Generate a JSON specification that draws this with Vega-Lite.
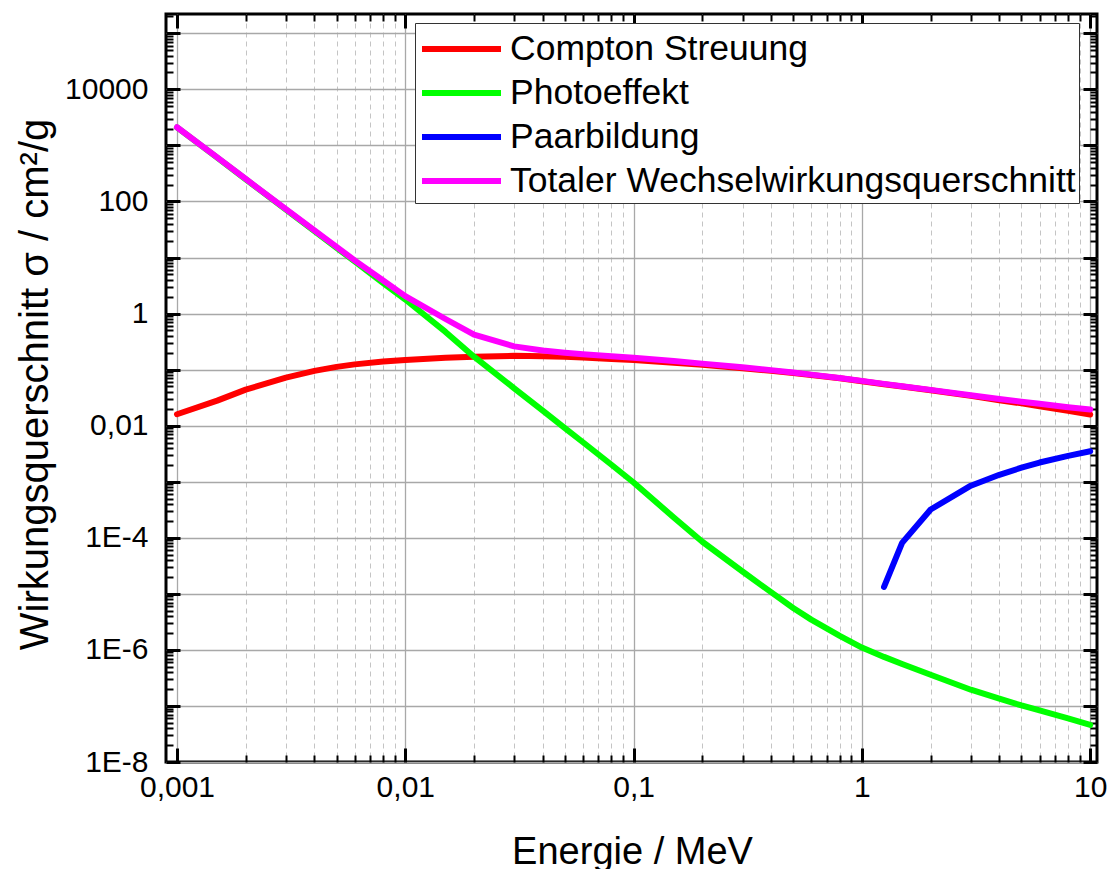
{
  "$schema": "https://vega.github.io/schema/vega-lite/v6.json",
  "width": 931,
  "height": 748,
  "autosize": "none",
  "padding": {"left": 166, "top": 14, "right": 14, "bottom": 107},
  "background": "white",
  "config": {
    "view": {"stroke": "black", "strokeWidth": 3},
    "font": "Liberation Sans",
    "axis": {"domain": false, "tickColor": "black", "labelColor": "black", "titleColor": "black", "labelFont": "Liberation Sans", "titleFont": "Liberation Sans", "titleFontWeight": "normal"}
  },
  "data": {
    "values": [
      {"E": 0.001, "s": 0.016, "k": "Compton Streuung"},
      {"E": 0.0015, "s": 0.028, "k": "Compton Streuung"},
      {"E": 0.002, "s": 0.044, "k": "Compton Streuung"},
      {"E": 0.003, "s": 0.072, "k": "Compton Streuung"},
      {"E": 0.004, "s": 0.095, "k": "Compton Streuung"},
      {"E": 0.005, "s": 0.112, "k": "Compton Streuung"},
      {"E": 0.006, "s": 0.124, "k": "Compton Streuung"},
      {"E": 0.008, "s": 0.139, "k": "Compton Streuung"},
      {"E": 0.01, "s": 0.149, "k": "Compton Streuung"},
      {"E": 0.015, "s": 0.163, "k": "Compton Streuung"},
      {"E": 0.02, "s": 0.170, "k": "Compton Streuung"},
      {"E": 0.03, "s": 0.176, "k": "Compton Streuung"},
      {"E": 0.04, "s": 0.174, "k": "Compton Streuung"},
      {"E": 0.05, "s": 0.169, "k": "Compton Streuung"},
      {"E": 0.06, "s": 0.164, "k": "Compton Streuung"},
      {"E": 0.08, "s": 0.155, "k": "Compton Streuung"},
      {"E": 0.1, "s": 0.148, "k": "Compton Streuung"},
      {"E": 0.15, "s": 0.133, "k": "Compton Streuung"},
      {"E": 0.2, "s": 0.122, "k": "Compton Streuung"},
      {"E": 0.3, "s": 0.106, "k": "Compton Streuung"},
      {"E": 0.4, "s": 0.095, "k": "Compton Streuung"},
      {"E": 0.5, "s": 0.087, "k": "Compton Streuung"},
      {"E": 0.6, "s": 0.080, "k": "Compton Streuung"},
      {"E": 0.8, "s": 0.070, "k": "Compton Streuung"},
      {"E": 1, "s": 0.062, "k": "Compton Streuung"},
      {"E": 1.25, "s": 0.055, "k": "Compton Streuung"},
      {"E": 1.5, "s": 0.050, "k": "Compton Streuung"},
      {"E": 2, "s": 0.043, "k": "Compton Streuung"},
      {"E": 3, "s": 0.034, "k": "Compton Streuung"},
      {"E": 4, "s": 0.0285, "k": "Compton Streuung"},
      {"E": 5, "s": 0.025, "k": "Compton Streuung"},
      {"E": 6, "s": 0.0222, "k": "Compton Streuung"},
      {"E": 8, "s": 0.0185, "k": "Compton Streuung"},
      {"E": 10, "s": 0.0158, "k": "Compton Streuung"},
      {"E": 0.001, "s": 2090, "k": "Photoeffekt"},
      {"E": 0.0015, "s": 603, "k": "Photoeffekt"},
      {"E": 0.002, "s": 249, "k": "Photoeffekt"},
      {"E": 0.003, "s": 71.6, "k": "Photoeffekt"},
      {"E": 0.004, "s": 29.6, "k": "Photoeffekt"},
      {"E": 0.005, "s": 14.9, "k": "Photoeffekt"},
      {"E": 0.006, "s": 8.5, "k": "Photoeffekt"},
      {"E": 0.008, "s": 3.5, "k": "Photoeffekt"},
      {"E": 0.01, "s": 1.78, "k": "Photoeffekt"},
      {"E": 0.015, "s": 0.47, "k": "Photoeffekt"},
      {"E": 0.02, "s": 0.17, "k": "Photoeffekt"},
      {"E": 0.03, "s": 0.0465, "k": "Photoeffekt"},
      {"E": 0.04, "s": 0.0185, "k": "Photoeffekt"},
      {"E": 0.05, "s": 0.00906, "k": "Photoeffekt"},
      {"E": 0.06, "s": 0.00506, "k": "Photoeffekt"},
      {"E": 0.08, "s": 0.00201, "k": "Photoeffekt"},
      {"E": 0.1, "s": 0.00097, "k": "Photoeffekt"},
      {"E": 0.15, "s": 0.00023, "k": "Photoeffekt"},
      {"E": 0.2, "s": 0.000085, "k": "Photoeffekt"},
      {"E": 0.3, "s": 0.000025, "k": "Photoeffekt"},
      {"E": 0.4, "s": 0.0000107, "k": "Photoeffekt"},
      {"E": 0.5, "s": 0.0000056, "k": "Photoeffekt"},
      {"E": 0.6, "s": 0.00000347, "k": "Photoeffekt"},
      {"E": 0.8, "s": 0.00000178, "k": "Photoeffekt"},
      {"E": 1, "s": 0.0000011, "k": "Photoeffekt"},
      {"E": 1.25, "s": 0.00000075, "k": "Photoeffekt"},
      {"E": 1.5, "s": 0.00000056, "k": "Photoeffekt"},
      {"E": 2, "s": 0.00000036, "k": "Photoeffekt"},
      {"E": 3, "s": 0.000000195, "k": "Photoeffekt"},
      {"E": 4, "s": 0.000000135, "k": "Photoeffekt"},
      {"E": 5, "s": 0.000000102, "k": "Photoeffekt"},
      {"E": 6, "s": 0.000000083, "k": "Photoeffekt"},
      {"E": 8, "s": 0.00000006, "k": "Photoeffekt"},
      {"E": 10, "s": 0.000000046, "k": "Photoeffekt"},
      {"E": 1.25, "s": 0.0000133, "k": "Paarbildung"},
      {"E": 1.5, "s": 0.000081, "k": "Paarbildung"},
      {"E": 2, "s": 0.00032, "k": "Paarbildung"},
      {"E": 3, "s": 0.00085, "k": "Paarbildung"},
      {"E": 4, "s": 0.00133, "k": "Paarbildung"},
      {"E": 5, "s": 0.00178, "k": "Paarbildung"},
      {"E": 6, "s": 0.0022, "k": "Paarbildung"},
      {"E": 8, "s": 0.0029, "k": "Paarbildung"},
      {"E": 10, "s": 0.0035, "k": "Paarbildung"},
      {"E": 0.001, "s": 2110, "k": "Totaler Wechselwirkungsquerschnitt"},
      {"E": 0.0015, "s": 610, "k": "Totaler Wechselwirkungsquerschnitt"},
      {"E": 0.002, "s": 252, "k": "Totaler Wechselwirkungsquerschnitt"},
      {"E": 0.003, "s": 73, "k": "Totaler Wechselwirkungsquerschnitt"},
      {"E": 0.004, "s": 30.5, "k": "Totaler Wechselwirkungsquerschnitt"},
      {"E": 0.005, "s": 15.5, "k": "Totaler Wechselwirkungsquerschnitt"},
      {"E": 0.006, "s": 8.9, "k": "Totaler Wechselwirkungsquerschnitt"},
      {"E": 0.008, "s": 3.9, "k": "Totaler Wechselwirkungsquerschnitt"},
      {"E": 0.01, "s": 2.05, "k": "Totaler Wechselwirkungsquerschnitt"},
      {"E": 0.015, "s": 0.80, "k": "Totaler Wechselwirkungsquerschnitt"},
      {"E": 0.02, "s": 0.42, "k": "Totaler Wechselwirkungsquerschnitt"},
      {"E": 0.03, "s": 0.26, "k": "Totaler Wechselwirkungsquerschnitt"},
      {"E": 0.04, "s": 0.22, "k": "Totaler Wechselwirkungsquerschnitt"},
      {"E": 0.05, "s": 0.20, "k": "Totaler Wechselwirkungsquerschnitt"},
      {"E": 0.06, "s": 0.188, "k": "Totaler Wechselwirkungsquerschnitt"},
      {"E": 0.08, "s": 0.173, "k": "Totaler Wechselwirkungsquerschnitt"},
      {"E": 0.1, "s": 0.163, "k": "Totaler Wechselwirkungsquerschnitt"},
      {"E": 0.15, "s": 0.142, "k": "Totaler Wechselwirkungsquerschnitt"},
      {"E": 0.2, "s": 0.128, "k": "Totaler Wechselwirkungsquerschnitt"},
      {"E": 0.3, "s": 0.110, "k": "Totaler Wechselwirkungsquerschnitt"},
      {"E": 0.4, "s": 0.098, "k": "Totaler Wechselwirkungsquerschnitt"},
      {"E": 0.5, "s": 0.089, "k": "Totaler Wechselwirkungsquerschnitt"},
      {"E": 0.6, "s": 0.0815, "k": "Totaler Wechselwirkungsquerschnitt"},
      {"E": 0.8, "s": 0.071, "k": "Totaler Wechselwirkungsquerschnitt"},
      {"E": 1, "s": 0.063, "k": "Totaler Wechselwirkungsquerschnitt"},
      {"E": 1.25, "s": 0.0557, "k": "Totaler Wechselwirkungsquerschnitt"},
      {"E": 1.5, "s": 0.0505, "k": "Totaler Wechselwirkungsquerschnitt"},
      {"E": 2, "s": 0.0435, "k": "Totaler Wechselwirkungsquerschnitt"},
      {"E": 3, "s": 0.035, "k": "Totaler Wechselwirkungsquerschnitt"},
      {"E": 4, "s": 0.0299, "k": "Totaler Wechselwirkungsquerschnitt"},
      {"E": 5, "s": 0.0268, "k": "Totaler Wechselwirkungsquerschnitt"},
      {"E": 6, "s": 0.0246, "k": "Totaler Wechselwirkungsquerschnitt"},
      {"E": 8, "s": 0.0214, "k": "Totaler Wechselwirkungsquerschnitt"},
      {"E": 10, "s": 0.0195, "k": "Totaler Wechselwirkungsquerschnitt"}
    ]
  },
  "resolve": {"axis": {"x": "independent", "y": "independent"}},
  "layer": [
    {
      "mark": {"type": "point", "opacity": 0},
      "encoding": {
        "x": {"field": "E", "type": "quantitative", "scale": {"type": "log", "domain": [0.000895, 10.71], "nice": false},
          "axis": {"orient": "bottom", "values": [0.002,0.003,0.004,0.005,0.006,0.007,0.008,0.009,0.02,0.03,0.04,0.05,0.06,0.07,0.08,0.09,0.2,0.3,0.4,0.5,0.6,0.7,0.8,0.9,2,3,4,5,6,7,8,9],
            "labels": false, "title": null, "tickSize": -7, "tickWidth": 2, "grid": true, "gridColor": "#c4c4c4", "gridDash": [5, 4], "gridWidth": 1}},
        "y": {"field": "s", "type": "quantitative", "scale": {"type": "log", "domain": [1e-8, 2.21e5], "nice": false},
          "axis": {"orient": "left", "values": [2e-8,3e-8,4e-8,5e-8,6e-8,7e-8,8e-8,9e-8,2e-7,3e-7,4e-7,5e-7,6e-7,7e-7,8e-7,9e-7,2e-6,3e-6,4e-6,5e-6,6e-6,7e-6,8e-6,9e-6,2e-5,3e-5,4e-5,5e-5,6e-5,7e-5,8e-5,9e-5,2e-4,3e-4,4e-4,5e-4,6e-4,7e-4,8e-4,9e-4,0.002,0.003,0.004,0.005,0.006,0.007,0.008,0.009,0.02,0.03,0.04,0.05,0.06,0.07,0.08,0.09,0.2,0.3,0.4,0.5,0.6,0.7,0.8,0.9,2,3,4,5,6,7,8,9,20,30,40,50,60,70,80,90,200,300,400,500,600,700,800,900,2000,3000,4000,5000,6000,7000,8000,9000,20000,30000,40000,50000,60000,70000,80000,90000,200000],
            "labels": false, "title": null, "tickSize": -7, "tickWidth": 2, "grid": false}}
      }
    },
    {
      "mark": {"type": "point", "opacity": 0},
      "encoding": {
        "x": {"field": "E", "type": "quantitative", "scale": {"type": "log", "domain": [0.000895, 10.71], "nice": false},
          "axis": {"orient": "top", "values": [0.001, 0.01, 0.1, 1, 10], "labels": false, "title": null, "tickSize": -14, "tickWidth": 3, "grid": false}},
        "y": {"field": "s", "type": "quantitative", "scale": {"type": "log", "domain": [1e-8, 2.21e5], "nice": false},
          "axis": {"orient": "right", "values": [1e-8,1e-7,1e-6,1e-5,1e-4,1e-3,0.01,0.1,1,10,100,1000,10000,100000], "labels": false, "title": null, "tickSize": -14, "tickWidth": 3, "grid": false}}
      }
    },
    {
      "mark": {"type": "point", "opacity": 0},
      "encoding": {
        "x": {"field": "E", "type": "quantitative", "scale": {"type": "log", "domain": [0.000895, 10.71], "nice": false},
          "axis": {"orient": "top", "values": [0.002,0.003,0.004,0.005,0.006,0.007,0.008,0.009,0.02,0.03,0.04,0.05,0.06,0.07,0.08,0.09,0.2,0.3,0.4,0.5,0.6,0.7,0.8,0.9,2,3,4,5,6,7,8,9], "labels": false, "title": null, "tickSize": -7, "tickWidth": 2, "grid": false}},
        "y": {"field": "s", "type": "quantitative", "scale": {"type": "log", "domain": [1e-8, 2.21e5], "nice": false},
          "axis": {"orient": "right", "values": [2e-8,3e-8,4e-8,5e-8,6e-8,7e-8,8e-8,9e-8,2e-7,3e-7,4e-7,5e-7,6e-7,7e-7,8e-7,9e-7,2e-6,3e-6,4e-6,5e-6,6e-6,7e-6,8e-6,9e-6,2e-5,3e-5,4e-5,5e-5,6e-5,7e-5,8e-5,9e-5,2e-4,3e-4,4e-4,5e-4,6e-4,7e-4,8e-4,9e-4,0.002,0.003,0.004,0.005,0.006,0.007,0.008,0.009,0.02,0.03,0.04,0.05,0.06,0.07,0.08,0.09,0.2,0.3,0.4,0.5,0.6,0.7,0.8,0.9,2,3,4,5,6,7,8,9,20,30,40,50,60,70,80,90,200,300,400,500,600,700,800,900,2000,3000,4000,5000,6000,7000,8000,9000,20000,30000,40000,50000,60000,70000,80000,90000,200000], "labels": false, "title": null, "tickSize": -7, "tickWidth": 2, "grid": false}}
      }
    },
    {
      "mark": {"type": "line", "strokeWidth": 6, "strokeCap": "round", "strokeJoin": "round"},
      "encoding": {
        "x": {"field": "E", "type": "quantitative", "scale": {"type": "log", "domain": [0.000895, 10.71], "nice": false},
          "axis": {"orient": "bottom", "values": [0.001, 0.01, 0.1, 1, 10], "labelExpr": "replace(toString(datum.value), '.', ',')",
            "labelFontSize": 30, "labelPadding": 24, "tickSize": -14, "tickWidth": 3, "grid": true, "gridColor": "#a8a8a8", "gridWidth": 1.3,
            "title": "Energie / MeV", "titleFontSize": 38, "titleBaseline": "alphabetic", "titleY": 101, "titleX": 466}},
        "y": {"field": "s", "type": "quantitative", "scale": {"type": "log", "domain": [1e-8, 2.21e5], "nice": false},
          "axis": {"orient": "left", "values": [1e-8,1e-7,1e-6,1e-5,1e-4,1e-3,0.01,0.1,1,10,100,1000,10000,100000],
            "labelExpr": "(round(log(datum.value)/LN10) % 2 != 0) ? '' : (round(log(datum.value)/LN10) <= -4 ? '1E' + round(log(datum.value)/LN10) : (round(log(datum.value)/LN10) == -2 ? '0,01' : format(datum.value, 'd')))",
            "labelFontSize": 30, "labelPadding": 32, "tickSize": -14, "tickWidth": 3, "grid": true, "gridColor": "#a8a8a8", "gridWidth": 1.3,
            "title": "Wirkungsquerschnitt σ / cm²/g", "titleFontSize": 40, "titleBaseline": "alphabetic", "titleAngle": -90, "titleX": -119, "titleY": 370}},
        "color": {"field": "k", "type": "nominal",
          "scale": {"domain": ["Compton Streuung", "Photoeffekt", "Paarbildung", "Totaler Wechselwirkungsquerschnitt"], "range": ["#ff0000", "#00ff00", "#0000ff", "#ff00ff"]},
          "legend": {"title": null, "orient": "none", "legendX": 249, "legendY": 9, "symbolType": "M-0.95,0H3", "symbolSize": 1600, "symbolStrokeWidth": 6,
            "labelFontSize": 35.5, "labelFont": "Liberation Sans", "labelColor": "black", "labelOffset": 46, "padding": 3, "fillColor": "white", "strokeColor": "#333333", "rowPadding": 2, "labelLimit": 700}}
      }
    }
  ]
}
